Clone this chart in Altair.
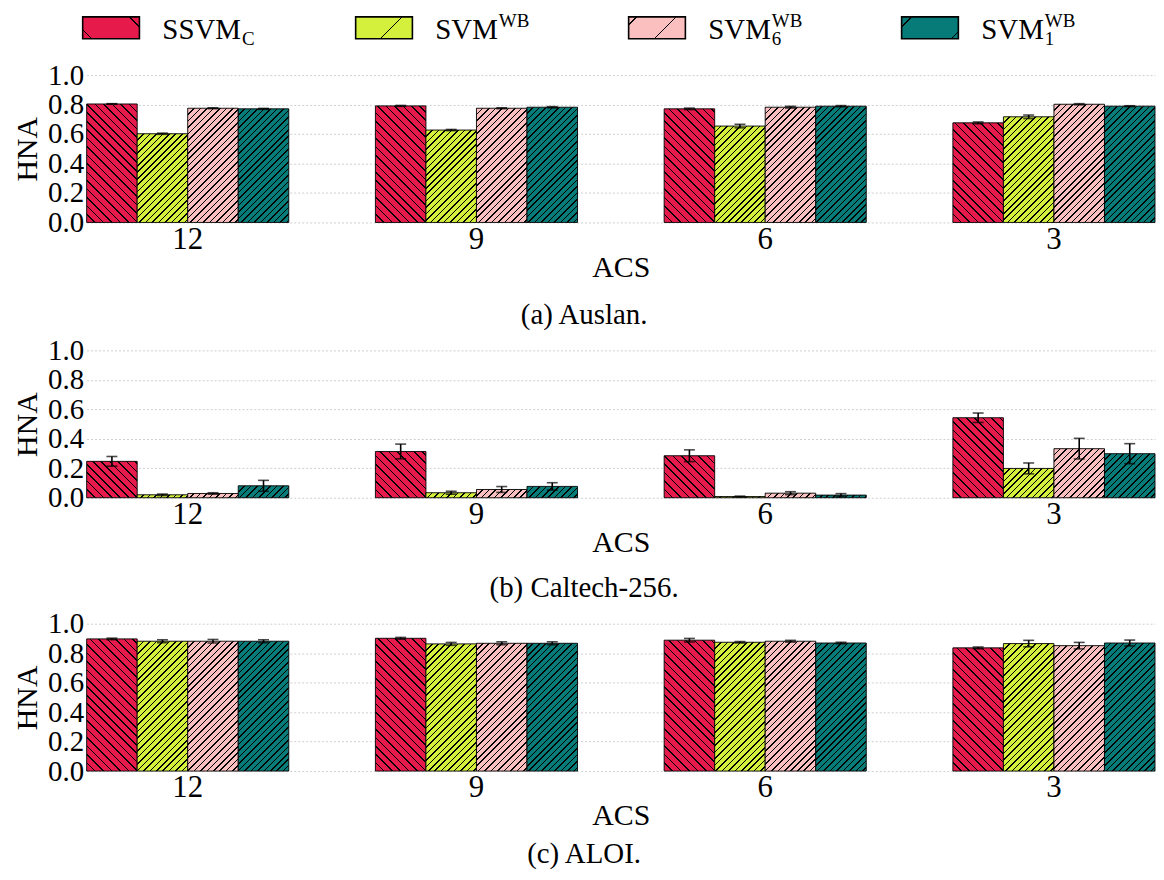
import altair as alt
import pandas as pd

# ---------------- data ----------------
groups = ["12", "9", "6", "3"]
series = ["SSVM_C", "SVM_WB", "SVM6_WB", "SVM1_WB"]

legend_main = ["SSVM", "SVM", "SVM", "SVM"]
legend_sub = ["C", "", "6", "1"]
legend_sup = ["", "WB", "WB", "WB"]

auslan_mean = {
    "SSVM_C": [0.804, 0.791, 0.771, 0.676],
    "SVM_WB": [0.602, 0.627, 0.654, 0.717],
    "SVM6_WB": [0.775, 0.775, 0.782, 0.802],
    "SVM1_WB": [0.771, 0.782, 0.789, 0.789],
}
auslan_err = {
    "SSVM_C": [0.002, 0.003, 0.005, 0.006],
    "SVM_WB": [0.004, 0.004, 0.012, 0.012],
    "SVM6_WB": [0.003, 0.003, 0.006, 0.004],
    "SVM1_WB": [0.003, 0.004, 0.004, 0.003],
}
caltech_mean = {
    "SSVM_C": [0.247, 0.314, 0.285, 0.543],
    "SVM_WB": [0.020, 0.034, 0.008, 0.199],
    "SVM6_WB": [0.029, 0.056, 0.031, 0.333],
    "SVM1_WB": [0.081, 0.077, 0.018, 0.299],
}
caltech_err = {
    "SSVM_C": [0.033, 0.050, 0.040, 0.032],
    "SVM_WB": [0.005, 0.010, 0.003, 0.037],
    "SVM6_WB": [0.005, 0.020, 0.010, 0.070],
    "SVM1_WB": [0.037, 0.025, 0.010, 0.068],
}
aloi_mean = {
    "SSVM_C": [0.897, 0.901, 0.888, 0.836],
    "SVM_WB": [0.881, 0.863, 0.874, 0.865],
    "SVM6_WB": [0.881, 0.867, 0.881, 0.851],
    "SVM1_WB": [0.881, 0.867, 0.869, 0.869],
}
aloi_err = {
    "SSVM_C": [0.005, 0.006, 0.012, 0.006],
    "SVM_WB": [0.010, 0.010, 0.005, 0.022],
    "SVM6_WB": [0.012, 0.010, 0.006, 0.022],
    "SVM1_WB": [0.010, 0.010, 0.005, 0.020],
}
y_ticks = [0.0, 0.2, 0.4, 0.6, 0.8, 1.0]

# ---------------- style ----------------
FONT = "Liberation Serif"
colors = ["#e61a4b", "#d4f03c", "#fbbfbf", "#067b78"]
hatch_dirs = ["back", "fwd", "fwd", "fwd"]
hatch_periods = [8.5, 6.5, 6.5, 6.5]
W, H = 1073, 148
PAD_INNER = 0.3
step = W / (len(groups) - PAD_INNER)
bar_w = step * (1 - PAD_INNER) / len(series)


def hatch_gradient(color, w, h, period, lw, direction, phase=0.0):
    h = max(h, 0.5)
    L = w + h
    c = L / (w * w + h * h)
    if direction == "back":
        x1, y1, x2, y2 = 0, 1, c * w, 1 - c * h
    else:
        x1, y1, x2, y2 = 0, 0, c * w, c * h
    bw = lw * 2 ** 0.5
    stops = [(0.0, color)]
    s = phase
    while s - bw / 2 < L:
        a = max(0.0, (s - bw / 2) / L)
        b = min(1.0, (s + bw / 2) / L)
        if b > 0:
            a = round(a, 5)
            b = round(b, 5)
            stops += [(a, color), (a, "black"), (b, "black"), (b, color)]
        s += period
    stops.append((1.0, color))
    return alt.Gradient(
        gradient="linear", x1=round(x1, 5), y1=round(y1, 5), x2=round(x2, 5), y2=round(y2, 5),
        stops=[alt.GradientStop(offset=o, color=col) for o, col in stops],
    )


def panel(means, errs, caption, cap_offset):
    rows = []
    for gi, g in enumerate(groups):
        for s in series:
            v = means[s][gi]
            e = errs[s][gi]
            rows.append(dict(group=g, series=s, value=v, lo=v - e, hi=v + e))
    df = pd.DataFrame(rows)

    xaxis = alt.Axis(labelAngle=0, labelFont=FONT, labelFontSize=31, labelColor="black",
                     domain=False, ticks=False, labelPadding=2, title="ACS",
                     titleFont=FONT, titleFontSize=30, titleFontWeight="normal",
                     titleColor="black", titlePadding=-2)
    yaxis = alt.Axis(values=y_ticks, format=".1f", labelFont=FONT, labelFontSize=29,
                     labelColor="black", labelOverlap=False, domain=False, ticks=False,
                     labelPadding=3, grid=True, gridColor="#cfcfcf", gridDash=[2, 2],
                     gridWidth=1, title="HNA", titleFont=FONT, titleFontSize=30,
                     titleFontWeight="normal", titleColor="black", titlePadding=5)
    x = alt.X("group:N", scale=alt.Scale(domain=groups, paddingInner=PAD_INNER, paddingOuter=0),
              axis=xaxis, title="ACS")
    xo = alt.XOffset("series:N", scale=alt.Scale(domain=series, paddingInner=0, paddingOuter=0))
    yscale = alt.Scale(domain=[0, 1])

    layers = []
    for r in rows:
        si = series.index(r["series"])
        grad = hatch_gradient(colors[si], bar_w, r["value"] * H, hatch_periods[si], 1.1, hatch_dirs[si])
        layers.append(
            alt.Chart(pd.DataFrame([r])).mark_bar(fill=grad, stroke="black", strokeWidth=0.9)
            .encode(x=x, xOffset=xo, y=alt.Y("value:Q", scale=yscale, axis=yaxis, title="HNA"))
        )
    rule = alt.Chart(df).mark_rule(color="black", strokeWidth=1.6).encode(
        x=x, xOffset=xo, y=alt.Y("lo:Q", scale=yscale, axis=yaxis, title="HNA"), y2="hi:Q")
    cap_lo = alt.Chart(df).mark_tick(color="black", size=11, thickness=1.6).encode(
        x=x, xOffset=xo, y=alt.Y("lo:Q", scale=yscale, axis=yaxis, title="HNA"))
    cap_hi = alt.Chart(df).mark_tick(color="black", size=11, thickness=1.6).encode(
        x=x, xOffset=xo, y=alt.Y("hi:Q", scale=yscale, axis=yaxis, title="HNA"))
    return alt.layer(*layers, rule, cap_lo, cap_hi).properties(
        width=W, height=H,
        title=alt.TitleParams(caption, orient="bottom", anchor="middle", frame="bounds",
                              font=FONT, fontSize=29, fontWeight="normal", color="black",
                              offset=cap_offset),
    )


# ---------------- custom legend ----------------
leg_df = pd.DataFrame({"series": series, "main": legend_main, "sub": legend_sub, "sup": legend_sup})
lx = alt.X("series:N", scale=alt.Scale(type="point", domain=series, range=[24.5, 847], padding=0), axis=None)
SW_W, SW_H = 57, 22
swatch_path = "M-1,-{r}L1,-{r}L1,{r}L-1,{r}Z".format(r=round(SW_H / SW_W, 4))
leg_periods = [60, 60, 40, 62]
leg_phases = [9, 47, 8, 10]
em = {"S": 0.556, "V": 0.722, "M": 0.889}
MAIN_FS, SMALL_FS = 29, 19

leg_layers = []
for i, s in enumerate(series):
    grad = hatch_gradient(colors[i], SW_W, SW_H, leg_periods[i], 1.0, hatch_dirs[i], leg_phases[i])
    leg_layers.append(
        alt.Chart(leg_df.iloc[[i]]).mark_point(shape=swatch_path, size=SW_W * SW_W, filled=True,
                                               fill=grad, stroke="black", strokeWidth=1.6, opacity=1)
        .encode(x=lx, y=alt.value(18))
    )
text_dx = SW_W / 2 + 23
leg_layers.append(
    alt.Chart(leg_df).mark_text(align="left", baseline="alphabetic", dx=text_dx, font=FONT,
                                fontSize=MAIN_FS, color="black")
    .encode(x=lx, y=alt.value(29), text="main:N")
)
for i, s in enumerate(series):
    wmain = sum(em[ch] for ch in legend_main[i]) * MAIN_FS
    if legend_sub[i]:
        leg_layers.append(
            alt.Chart(leg_df.iloc[[i]]).mark_text(align="left", baseline="alphabetic",
                                                  dx=text_dx + wmain + 1, font=FONT,
                                                  fontSize=SMALL_FS, color="black")
            .encode(x=lx, y=alt.value(35), text="sub:N")
        )
    if legend_sup[i]:
        leg_layers.append(
            alt.Chart(leg_df.iloc[[i]]).mark_text(align="left", baseline="alphabetic",
                                                  dx=text_dx + wmain + 1, font=FONT,
                                                  fontSize=SMALL_FS, color="black")
            .encode(x=lx, y=alt.value(17), text="sup:N")
        )
legend = alt.layer(*leg_layers).properties(width=W, height=45)

chart = alt.vconcat(
    legend,
    panel(auslan_mean, auslan_err, "(a) Auslan.", 19),
    panel(caltech_mean, caltech_err, "(b) Caltech-256.", 17),
    panel(aloi_mean, aloi_err, "(c) ALOI.", 9),
    spacing=6.5,
).properties(padding={"left": 4, "top": 0, "right": 0, "bottom": 0}).configure_view(strokeWidth=0)

chart.save("out.html", embed_options={"renderer": "svg", "actions": False})
